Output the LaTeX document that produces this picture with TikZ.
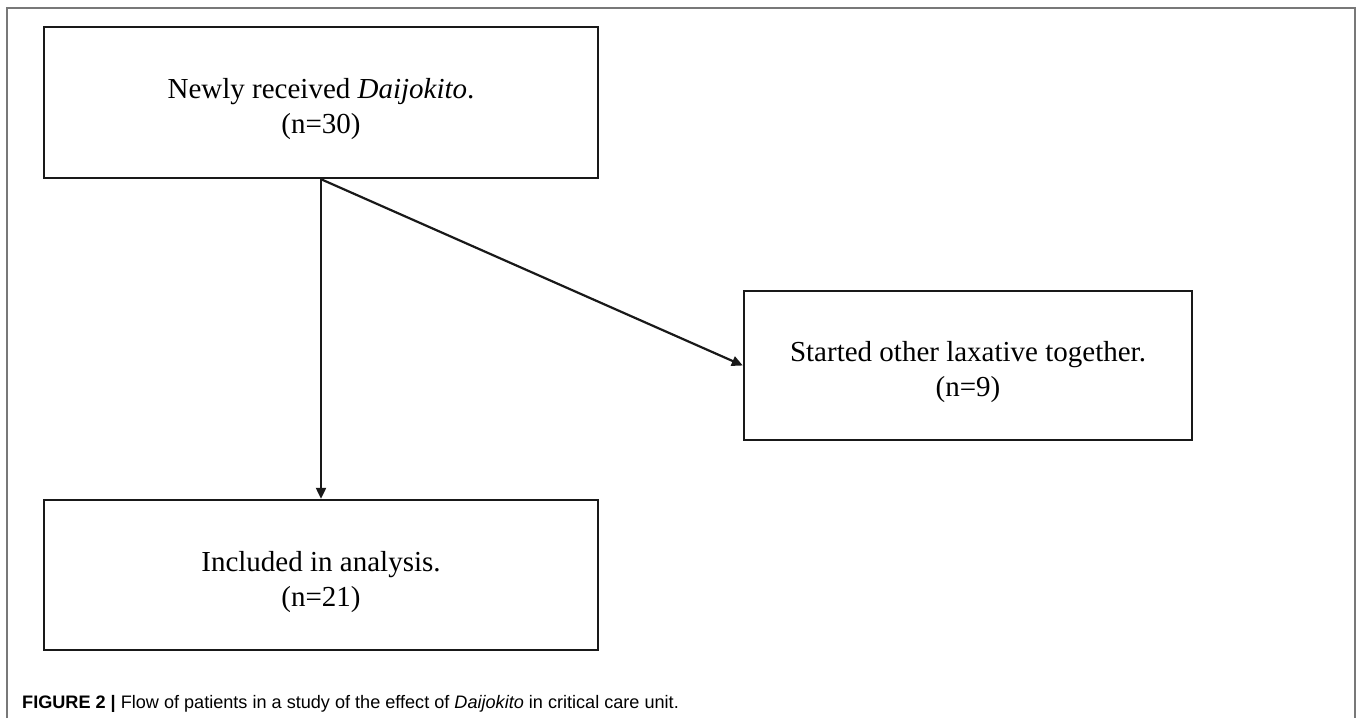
\documentclass[tikz,border=0pt]{standalone}
\usepackage{fontspec}
\setmainfont{Liberation Serif}
\newfontfamily\capfont{Liberation Sans}
\usetikzlibrary{arrows.meta,positioning}
\definecolor{FrameGray}{RGB}{120,120,120}
\definecolor{LineBlack}{RGB}{25,25,25}
\newcommand{\boxgap}{\rule{0pt}{34pt}}

\begin{document}
\begin{tikzpicture}[x=1pt, y=-1pt,
		flowbox/.style={draw=LineBlack, line width=2.4pt, align=center, inner sep=0pt,
			font=\fontsize{29}{35}\selectfont},
		flowarrow/.style={draw=LineBlack, line width=2.2pt, -{Triangle[length=11pt,width=10pt]}}]
		\useasboundingbox (0,0) rectangle (1358,718);
		
		% frame
		\draw[FrameGray, line width=1.6pt] (7,718) -- (7,8) -- (1355,8) -- (1355,718);
		
		% boxes
		\node[flowbox, minimum width=554pt, minimum height=151pt] (recv) at (321,102.5)
			{\boxgap Newly received \textit{Daijokito}.\\(n=30)};
		\node[flowbox, minimum width=448pt, minimum height=149pt] (other) at (968,365.5)
			{\boxgap Started other laxative together.\\(n=9)};
		\node[flowbox, minimum width=554pt, minimum height=150pt] (incl) at (321,575)
			{\boxgap Included in analysis.\\(n=21)};
		
		% arrows
		\draw[flowarrow] (recv.south) -- (incl.north);
		\draw[flowarrow] (recv.south) -- (other.west);
		
		% caption
		\node[anchor=base west, inner sep=0pt, font=\capfont\fontsize{18.1}{21}\selectfont] (cap) at (22,708)
			{\textbf{FIGURE 2 |} Flow of patients in a study of the effect of \textit{Daijokito} in critical care unit.};
	\end{tikzpicture}
\end{document}
